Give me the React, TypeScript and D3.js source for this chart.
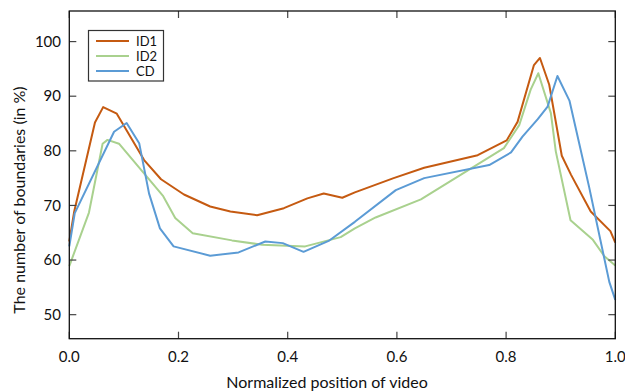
import React from "react";
import * as d3 from "d3";

// positions along the video (x) and boundary share in % (y)
const id1X = [0, 0.009, 0.047, 0.062, 0.087, 0.137, 0.168, 0.21, 0.258, 0.295, 0.344, 0.393, 0.436, 0.466, 0.5, 0.523, 0.594, 0.65, 0.748, 0.801, 0.821, 0.851, 0.862, 0.879, 0.902, 0.919, 0.955, 0.991, 1.0];
const id1Y = [63.4, 68.9, 85.2, 88.0, 86.8, 78.3, 74.8, 72.0, 69.8, 68.9, 68.2, 69.5, 71.3, 72.2, 71.4, 72.4, 75.0, 76.9, 79.2, 81.9, 85.3, 95.7, 97.0, 92.1, 79.1, 75.6, 68.9, 65.3, 63.2];

const id2X = [0, 0.036, 0.061, 0.07, 0.091, 0.172, 0.194, 0.226, 0.298, 0.353, 0.432, 0.497, 0.523, 0.561, 0.644, 0.796, 0.824, 0.845, 0.859, 0.882, 0.891, 0.918, 0.959, 0.98, 1.0];
const id2Y = [58.9, 68.7, 81.3, 82.0, 81.3, 71.7, 67.7, 64.9, 63.6, 62.8, 62.5, 64.2, 65.8, 67.8, 71.1, 80.5, 84.7, 91.2, 94.2, 86.9, 79.9, 67.3, 63.7, 60.7, 59.0];

const cdX = [0, 0.01, 0.082, 0.105, 0.128, 0.146, 0.166, 0.191, 0.258, 0.31, 0.359, 0.391, 0.429, 0.475, 0.523, 0.598, 0.65, 0.769, 0.809, 0.83, 0.858, 0.876, 0.894, 0.916, 0.952, 0.989, 1.0];
const cdY = [62.5, 68.6, 83.5, 85.1, 81.4, 72.2, 65.8, 62.5, 60.8, 61.4, 63.4, 63.1, 61.5, 63.5, 67.0, 72.8, 75.0, 77.4, 79.7, 82.6, 85.8, 88.1, 93.7, 89.2, 73.4, 56.0, 52.7];

const seriesNames = ["ID1", "ID2", "CD"];
const seriesColors = ["#C55A11", "#A9D18E", "#5B9BD5"];
const xTicks = [0, 0.2, 0.4, 0.6, 0.8, 1.0];
const yTicks = [50, 60, 70, 80, 90, 100];

const W = 625;
const H = 392;
const FONT = "Lato, 'Open Sans', sans-serif";

export default function App() {
  const left = 69.3, right = 615.3, top = 11, bottom = 338.7;
  const x = d3.scaleLinear().domain([0, 1]).range([left, right]);
  const y = d3.scaleLinear().domain([45.6, 105.6]).range([bottom, top]);

  const series = [
    d3.zip(id1X, id1Y),
    d3.zip(id2X, id2Y),
    d3.zip(cdX, cdY),
  ];
  const line = d3
    .line<number[]>()
    .x((d) => x(d[0]))
    .y((d) => y(d[1]));

  const tk = 7; // inward tick length
  const tickColor = "#444";

  return (
    <svg
      width={W}
      height={H}
      style={{ position: "absolute", left: 0, top: 0, background: "#fff" }}
      fontFamily={FONT}
    >
      {/* lines */}
      {series.map((s, i) => (
        <path key={i} d={line(s) || ""} fill="none" stroke={seriesColors[i]} strokeWidth={2} strokeLinejoin="round" />
      ))}

      {/* ticks on all four sides, pointing inwards */}
      {xTicks.map((t) => (
        <g key={"x" + t}>
          <line x1={x(t)} x2={x(t)} y1={bottom} y2={bottom - tk} stroke={tickColor} strokeWidth={1.2} />
          <line x1={x(t)} x2={x(t)} y1={top} y2={top + tk} stroke={tickColor} strokeWidth={1.2} />
          <text x={x(t)} y={bottom + 23} textAnchor="middle" fontSize={15} fill="#111">
            {d3.format(".1f")(t)}
          </text>
        </g>
      ))}
      {yTicks.map((t) => (
        <g key={"y" + t}>
          <line x1={left} x2={left + tk} y1={y(t)} y2={y(t)} stroke={tickColor} strokeWidth={1.2} />
          <line x1={right} x2={right - tk} y1={y(t)} y2={y(t)} stroke={tickColor} strokeWidth={1.2} />
          <text x={61} y={y(t)} dy="0.35em" textAnchor="end" fontSize={15} fill="#111">
            {t}
          </text>
        </g>
      ))}

      {/* frame */}
      <rect x={left} y={top} width={right - left} height={bottom - top} fill="none" stroke="#111" strokeWidth={1.3} />

      {/* legend */}
      <rect x={88.5} y={30.5} width={75} height={50.5} fill="#fff" stroke="#333" strokeWidth={1.2} />
      {seriesNames.map((n, i) => (
        <g key={n}>
          <line x1={96} x2={129} y1={41 + i * 15} y2={41 + i * 15} stroke={seriesColors[i]} strokeWidth={2} />
          <text x={136} y={41 + i * 15} dy="0.35em" fontSize={13} fill="#111">
            {n}
          </text>
        </g>
      ))}

      {/* axis titles */}
      <text x={327} y={388} textAnchor="middle" fontSize={16} fill="#111">
        Normalized position of video
      </text>
      <text transform="translate(25,200) rotate(-90)" textAnchor="middle" fontSize={16} fill="#111">
        The number of boundaries (in %)
      </text>
    </svg>
  );
}
